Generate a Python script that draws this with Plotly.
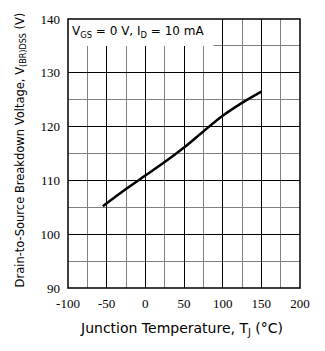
import plotly.graph_objects as go

temps = [-55, -25, 0, 25, 50, 75, 100, 125, 150]
volts = [105.2, 108.4, 110.9, 113.4, 116.1, 119.1, 122.0, 124.4, 126.5]

x_ticks = [-100, -50, 0, 50, 100, 150, 200]
x_labels = ["-100", "-50", "0", "50", "100", "150", "200"]
y_ticks = [90, 100, 110, 120, 130, 140]

fig = go.Figure()
fig.add_trace(go.Scatter(x=temps, y=volts, mode="lines", line_shape="spline",
                         line=dict(color="black", width=2.5), showlegend=False))

tickfont = dict(family="Liberation Serif", size=13, color="black")
fig.update_xaxes(range=[-100, 200], tickvals=x_ticks, ticktext=x_labels, showgrid=True, gridcolor="black",
                 gridwidth=1, zeroline=False, showline=False, ticks="",
                 tickfont=tickfont, ticklabelstandoff=6,
                 minor=dict(dtick=25, tick0=-100, showgrid=True, gridcolor="#808080", gridwidth=1))
fig.update_yaxes(range=[90, 140], tickvals=y_ticks, showgrid=True, gridcolor="black",
                 gridwidth=1, zeroline=False, showline=False, ticks="",
                 tickfont=tickfont, ticklabelstandoff=7,
                 minor=dict(dtick=5, tick0=90, showgrid=True, gridcolor="#808080", gridwidth=1))

fig.add_shape(type="rect", xref="x", yref="y", x0=-100, x1=88, y0=135, y1=140,
              fillcolor="white", line=dict(width=0), layer="above")
fig.add_shape(type="rect", xref="paper", yref="paper", x0=0, x1=1, y0=0, y1=1,
              line=dict(color="black", width=1.5), layer="above")

fig.add_annotation(x=-97, y=137.6, xref="x", yref="y", xanchor="left", yanchor="middle",
                   text="V<sub>GS</sub> = 0 V, I<sub>D</sub> = 10 mA", showarrow=False,
                   font=dict(family="DejaVu Sans", size=12, color="black"))
fig.add_annotation(x=0.489, y=-0.151, xref="paper", yref="paper", xanchor="center", yanchor="middle",
                   text="Junction Temperature, T<sub>J</sub> (°C)", showarrow=False,
                   font=dict(family="DejaVu Sans", size=14, color="black"))
fig.add_annotation(x=-0.207, y=0.515, xref="paper", yref="paper", xanchor="center", yanchor="middle",
                   text="Drain-to-Source Breakdown Voltage, V<sub>(BR)DSS</sub> (V)", showarrow=False,
                   textangle=-90, font=dict(family="DejaVu Sans", size=11.5, color="black"))

fig.update_layout(width=325, height=351, margin=dict(l=68, r=25, t=17, b=63),
                  paper_bgcolor="white", plot_bgcolor="white")
fig.write_html("out.html")
